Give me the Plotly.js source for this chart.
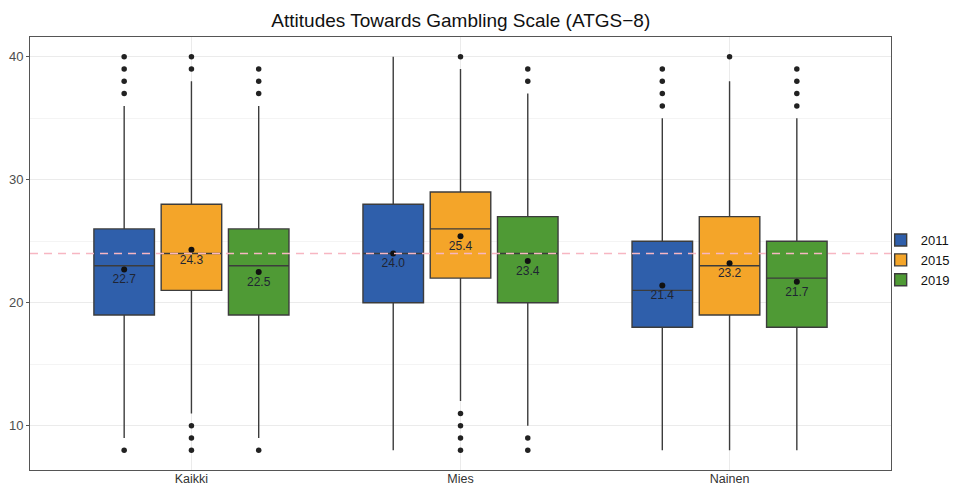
<!DOCTYPE html>
<html>
<head>
<meta charset="utf-8">
<script src="https://cdn.plot.ly/plotly-3.0.1.min.js"></script>
<style>html,body{margin:0;padding:0;background:#fff;}#chart{width:962px;height:487px;}</style>
</head>
<body>
<div id="chart"></div>
<script>
const categories = ['Kaikki', 'Mies', 'Nainen'];
const years = ['2011', '2015', '2019'];
const colors = ['#2F5FAB', '#F4A529', '#4F9A35'];

const q1_2011 = [19, 20, 18];
const median_2011 = [23, 24, 21];
const q3_2011 = [26, 28, 25];
const lower_2011 = [9, 8, 8];
const upper_2011 = [36, 40, 35];
const mean_2011 = [22.7, 24.0, 21.4];
const outliers_2011 = [[40, 39, 38, 37, 8], [], [39, 38, 37, 36]];

const q1_2015 = [21, 22, 19];
const median_2015 = [24, 26, 23];
const q3_2015 = [28, 29, 27];
const lower_2015 = [11, 12, 8];
const upper_2015 = [38, 39, 38];
const mean_2015 = [24.3, 25.4, 23.2];
const outliers_2015 = [[40, 39, 10, 9, 8], [40, 11, 10, 9, 8], [40]];

const q1_2019 = [19, 20, 18];
const median_2019 = [23, 24, 22];
const q3_2019 = [26, 27, 25];
const lower_2019 = [9, 10, 8];
const upper_2019 = [36, 37, 35];
const mean_2019 = [22.5, 23.4, 21.7];
const outliers_2019 = [[39, 38, 37, 8], [39, 38, 9, 8], [39, 38, 37, 36]];

const refLine = 24;

const series = [
  {q1: q1_2011, med: median_2011, q3: q3_2011, lo: lower_2011, hi: upper_2011, mean: mean_2011, out: outliers_2011},
  {q1: q1_2015, med: median_2015, q3: q3_2015, lo: lower_2015, hi: upper_2015, mean: mean_2015, out: outliers_2015},
  {q1: q1_2019, med: median_2019, q3: q3_2019, lo: lower_2019, hi: upper_2019, mean: mean_2019, out: outliers_2019}
];

const dodge = 0.25;
const boxW = 0.225;
const traces = [];

series.forEach((s, j) => {
  const off = (j - 1) * dodge;
  const xs = categories.map((c, i) => i + off);
  traces.push({
    type: 'box',
    name: years[j],
    x: xs,
    q1: s.q1, median: s.med, q3: s.q3,
    lowerfence: s.lo, upperfence: s.hi,
    width: boxW,
    whiskerwidth: 0,
    fillcolor: colors[j],
    line: {color: '#3c3c3c', width: 1.4},
    boxpoints: false,
    hoverinfo: 'skip',
    showlegend: true
  });
});

series.forEach((s, j) => {
  const off = (j - 1) * dodge;
  const ox = [], oy = [];
  s.out.forEach((arr, i) => arr.forEach(v => { ox.push(i + off); oy.push(v); }));
  traces.push({
    type: 'scatter', mode: 'markers', x: ox, y: oy,
    marker: {color: '#222', size: 5.5},
    showlegend: false, hoverinfo: 'skip'
  });
  traces.push({
    type: 'scatter', mode: 'markers+text',
    x: categories.map((c, i) => i + off), y: s.mean,
    text: s.mean.map(v => v.toFixed(1)),
    textposition: 'bottom center',
    textfont: {family: 'Liberation Sans, Arial, sans-serif', size: 12, color: '#1f2533'},
    marker: {color: '#111', size: 6},
    showlegend: false, hoverinfo: 'skip', cliponaxis: false
  });
});

const layout = {
  width: 962, height: 487,
  margin: {l: 30, r: 71, t: 37, b: 17, autoexpand: false},
  paper_bgcolor: '#fff', plot_bgcolor: '#fff',
  font: {family: 'Liberation Sans, Arial, sans-serif', color: '#4d4d4d', size: 13},
  title: {text: 'Attitudes Towards Gambling Scale (ATGS−8)', x: 0.479, xanchor: 'center', y: 0.958, yanchor: 'middle',
          font: {family: 'Liberation Sans, Arial, sans-serif', size: 19, color: '#111'}},
  boxmode: 'overlay',
  showlegend: true,
  legend: {x: 0.988, xanchor: 'left', y: 0.485, yanchor: 'middle', font: {size: 13, color: '#111'},
           bgcolor: 'rgba(0,0,0,0)', tracegroupgap: 0},
  xaxis: {
    range: [-0.6, 2.6],
    tickvals: categories.map((c, i) => i),
    ticktext: categories,
    showgrid: true, gridcolor: '#ebebeb', gridwidth: 1,
    zeroline: false, showline: true, mirror: true, linecolor: '#555', linewidth: 1,
    ticks: '', tickfont: {size: 12.5, color: '#333'}, ticklabelstandoff: -3
  },
  yaxis: {
    range: [6.4, 41.6],
    tick0: 0, dtick: 10,
    showgrid: true, gridcolor: '#ebebeb', gridwidth: 1,
    minor: {dtick: 5, tick0: 0, showgrid: true, gridcolor: '#f4f4f4', gridwidth: 1, ticks: ''},
    zeroline: false, showline: true, mirror: true, linecolor: '#555', linewidth: 1,
    ticks: 'outside', ticklen: 3, tickcolor: '#555', tickfont: {size: 13, color: '#4d4d4d'}
  },
  shapes: [{
    type: 'line', xref: 'paper', x0: 0, x1: 1, yref: 'y', y0: refLine, y1: refLine,
    line: {color: '#F7B6C2', width: 1.6, dash: '8px,6px'}, layer: 'above'
  }]
};

Plotly.newPlot('chart', traces, layout, {displayModeBar: false, staticPlot: true});
</script>
</body>
</html>
